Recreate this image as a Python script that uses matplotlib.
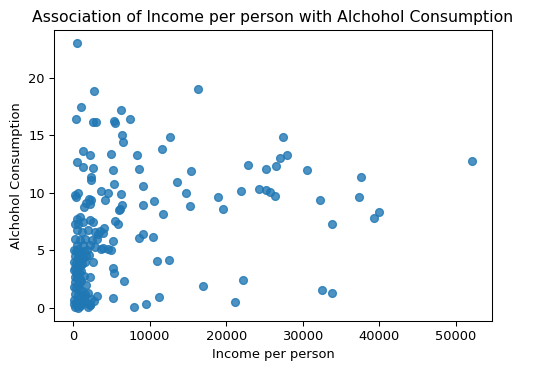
import matplotlib
matplotlib.use("Agg")
import matplotlib.pyplot as plt
import numpy as np

# income per person (x) and alcohol consumption (y)
income_outer = [547, 2777, 16334, 1028, 371, 6232, 7413, 2602, 3040, 5314, 5488, 6363, 6537,
                12704, 27443, 11655, 1246, 2209, 5007, 8419, 27967, 27093, 503, 1246, 2602,
                5182, 8594, 22807, 25213, 26568, 30548, 37545, 52108, 15416, 2383, 2383,
                13579, 5357, 9118, 21976, 24338, 25256, 25693, 26437, 14803, 18870, 32253,
                37370, 39950, 39251, 33784, 10605, 15285, 19571, 11786, 9118, 3608, 4570,
                4133, 6232, 6407, 6101, 5970, 5488, 5882, 4089, 3958, 8594, 9118, 10474,
                5182, 4570, 4920, 3608, 10999, 12530, 5182, 5357, 6713, 16990, 22151, 32472,
                33784, 11174, 5182, 7981, 9468, 21145, 3171, 2209, 2602, 3480, 3900, 2165]
alcohol_outer = [23.0, 18.86, 19.06, 17.43, 16.39, 17.23, 16.42, 16.16, 16.16, 16.27, 16.04,
                 15.02, 14.41, 14.88, 14.88, 13.83, 13.6, 13.25, 13.39, 13.25, 13.25, 13.05,
                 12.7, 12.2, 12.11, 11.97, 12.08, 12.44, 12.08, 12.35, 11.97, 11.39, 12.78,
                 11.85, 11.39, 11.07, 10.92, 10.72, 10.58, 10.11, 10.34, 10.23, 10.08, 9.76,
                 9.99, 9.65, 9.41, 9.65, 8.37, 7.79, 7.32, 9.30, 8.83, 8.6, 8.13, 8.95, 10.11,
                 9.99, 9.41, 9.9, 8.95, 8.6, 8.48, 7.55, 7.32, 6.97, 6.51, 6.04, 6.39, 6.16,
                 5.81, 5.11, 5.0, 5.11, 4.07, 4.18, 3.48, 3.02, 2.32, 1.86, 2.44, 1.51, 1.28,
                 0.93, 0.81, 0.11, 0.35, 0.46, 1.04, 2.67, 3.95, 6.7, 5.2, 0.2]

income_low = [328, 634, 240, 2077, 2340, 1640, 1421, 2253, 459, 896, 240, 677, 1340, 2209,
              2646, 459, 1115, 1990, 2864, 3302, 240, 896, 1548, 2427, 3083, 459, 1340, 2209,
              2864, 150, 400, 700, 1000, 1500, 1800, 250, 600, 900, 1300, 1700, 2100, 150, 450,
              800, 1200, 1600, 300, 600, 950, 150, 400, 750, 1100, 200, 500, 850, 1400, 300,
              650, 1000, 1700, 150, 450, 800, 1200, 2000, 250, 600, 1000, 1500, 2400, 2700,
              150, 400, 700, 1100, 1800, 2200, 300, 650, 900, 1300, 1600, 500, 120, 2000]
alcohol_low = [9.65, 9.99, 9.8, 9.5, 9.35, 9.07, 8.77, 8.98, 7.76, 7.9, 7.32, 7.32, 7.46, 7.61,
               7.46, 6.74, 6.59, 6.74, 6.59, 6.45, 6.02, 5.87, 6.02, 5.87, 6.02, 5.43, 5.43, 5.43,
               5.3, 5.0, 4.9, 5.1, 4.8, 4.9, 5.0, 4.5, 4.4, 4.6, 4.3, 4.5, 4.6, 4.0, 3.9, 4.1,
               3.8, 4.0, 3.5, 3.4, 3.6, 3.3, 3.0, 3.1, 3.2, 2.7, 2.6, 2.5, 2.8, 2.2, 2.1, 2.3,
               2.0, 1.8, 1.7, 1.6, 1.5, 1.3, 1.2, 1.1, 1.0, 0.9, 0.8, 0.6, 0.7, 0.5, 0.4, 0.3,
               0.4, 0.2, 0.1, 0.0, 0.15, 0.6, 1.2, 0.25, 0.35, 0.05]

income = np.array(income_outer + income_low)
alcohol = np.array(alcohol_outer + alcohol_low)

DPI = 94
fig = plt.figure(figsize=(533 / DPI, 371 / DPI), dpi=DPI)
ax = fig.add_axes([54 / 533, 1 - 321 / 371, (492 - 54) / 533, (321 - 30) / 371])

ax.scatter(income, alcohol, s=36, color="#1f77b4", alpha=0.8, linewidths=1.0)

ax.set_xticks([0, 10000, 20000, 30000, 40000, 50000])
ax.set_yticks([0, 5, 10, 15, 20])
ax.set_xlabel("Income per person")
ax.set_ylabel("Alchohol Consumption")
ax.set_title("Association of Income per person with Alchohol Consumption")

fig.savefig("out.png", dpi=DPI)
